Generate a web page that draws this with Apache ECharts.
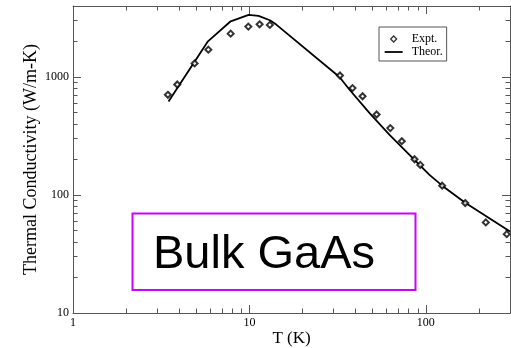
<!DOCTYPE html>
<html>
<head>
<meta charset="utf-8">
<script src="https://cdn.jsdelivr.net/npm/echarts@6/dist/echarts.min.js"></script>
<style>
html,body{margin:0;padding:0;background:#fff;}
#chart{width:511px;height:348px;}
</style>
</head>
<body>
<div id="chart"></div>
<script>
// Experimental data: temperature (K) and thermal conductivity (W/m-K)
var exptT = [3.45, 3.90, 4.89, 5.85, 7.83, 9.86, 11.42, 13.06, 32.6, 38.4, 43.8, 52.6, 62.9, 73.1, 86.3, 93.0, 123.8, 167.2, 218.8, 287.6];
var exptK = [707, 865, 1305, 1706, 2333, 2675, 2799, 2766, 1031, 806, 687, 481, 369, 286, 201, 180, 120, 85.5, 58.6, 46.6];
// Theoretical curve
var theorT = [3.48, 5.82, 7.83, 9.90, 11.27, 13.06, 14.2, 32.4, 36.96, 48.0, 62.3, 80.8, 104.9, 123.8, 167.2, 300];
var theorK = [620, 2007, 2968, 3364, 3298, 3027, 2782, 1000, 780, 494, 323, 219, 148, 120, 86, 49];
// Axis ticks
var xMajor = [1, 10, 100];
var xMinor = [2, 3, 4, 5, 6, 7, 8, 9, 20, 30, 40, 50, 60, 70, 80, 90, 200];
var yMajor = [10, 100, 1000];
var yMinor = [20, 30, 40, 50, 60, 70, 80, 90, 200, 300, 400, 500, 600, 700, 800, 900, 2000, 3000];
var xMin = 1, xMax = 300, yMin = 10, yMax = 4000;

var serif = "'Liberation Serif', 'DejaVu Serif', serif";
var axisColor = '#555';
function lg(v) { return Math.log(v) / Math.LN10; }

function majorFormatter(list) {
  return function (v) {
    var r = Math.round(v);
    for (var i = 0; i < list.length; i++) {
      if (Math.abs(r - list[i]) < 1e-6 * list[i] + 1e-9) return String(list[i]);
    }
    return '';
  };
}

// main log axis: carries the data, the axis line and the labels
function mainAxis(min, max, pos, majors, extra) {
  var a = {
    gridIndex: 0,
    type: 'log', logBase: 10, min: min, max: max, position: pos,
    axisLine: { show: true, onZero: false, lineStyle: { color: axisColor, width: 1 } },
    axisTick: { show: false },
    minorTick: { show: false },
    splitLine: { show: false },
    axisLabel: { show: true, color: '#000', fontFamily: serif, fontSize: 12, margin: 4,
      showMaxLabel: false, formatter: majorFormatter(majors) }
  };
  for (var k in extra) a[k] = extra[k];
  return a;
}
// overlay axis in log10 space (same rect) used only to draw tick marks
function tickAxis(grid, min, max, pos, ticks, len, showLine) {
  return {
    gridIndex: grid,
    type: 'value', min: lg(min), max: lg(max), position: pos,
    axisLine: { show: showLine, onZero: false, lineStyle: { color: axisColor, width: 1 } },
    axisTick: { show: true, inside: true, length: len, customValues: ticks.map(lg), lineStyle: { color: axisColor, width: 1 } },
    splitLine: { show: false },
    axisLabel: { show: false }
  };
}

var chart = echarts.init(document.getElementById('chart'), null, { renderer: 'canvas' });

var gridRect = { left: 73, right: 1, top: 6, bottom: 35, containLabel: false, outerBoundsMode: 'none' };

var option = {
  backgroundColor: '#fff',
  animation: false,
  grid: [gridRect, Object.assign({}, gridRect), Object.assign({}, gridRect)],
  xAxis: [
    mainAxis(xMin, xMax, 'bottom', xMajor, {
      name: 'T (K)', nameLocation: 'middle', nameGap: 17, nameMoveOverlap: false,
      nameTextStyle: { fontFamily: serif, fontSize: 17, color: '#000' }
    }),
    tickAxis(1, xMin, xMax, 'bottom', xMajor, 8, false),
    tickAxis(1, xMin, xMax, 'top', xMajor, 8, true),
    tickAxis(2, xMin, xMax, 'bottom', xMinor, 4.5, false),
    tickAxis(2, xMin, xMax, 'top', xMinor, 4.5, false)
  ],
  yAxis: [
    mainAxis(yMin, yMax, 'left', yMajor, {
      name: 'Thermal Conductivity (W/m-K)', nameLocation: 'middle', nameGap: 33, nameMoveOverlap: false,
      nameTextStyle: { fontFamily: serif, fontSize: 18, color: '#000' }
    }),
    tickAxis(1, yMin, yMax, 'left', yMajor, 8, false),
    tickAxis(1, yMin, yMax, 'right', yMajor, 8, true),
    tickAxis(2, yMin, yMax, 'left', yMinor, 4.5, false),
    tickAxis(2, yMin, yMax, 'right', yMinor, 4.5, false)
  ],
  legend: {
    orient: 'vertical',
    left: 379, top: 27,
    padding: [6, 4, 3, 5],
    itemWidth: 18, itemHeight: 6, itemGap: 1,
    borderColor: axisColor, borderWidth: 1,
    textStyle: { fontFamily: serif, fontSize: 12, color: '#000', padding: [0, 0, 0, 4] },
    data: [
      { name: 'Expt.', icon: 'path://M0,0 M18,6 M9,0 L12,3 L9,6 L6,3 Z',
        itemStyle: { color: '#fff', borderColor: '#000', borderWidth: 1.3 } },
      { name: 'Theor.', icon: 'path://M0,0 L18,0 L18,1.8 L0,1.8 Z',
        itemStyle: { color: '#000', borderWidth: 0 } }
    ]
  },
  series: [
    {
      name: 'Expt.', type: 'scatter',
      xAxisIndex: 0, yAxisIndex: 0,
      symbol: 'emptyDiamond', symbolSize: 6,
      itemStyle: { color: '#000', borderColor: '#000', borderWidth: 1.3 },
      data: exptT.map(function (t, i) { return [t, exptK[i]]; }),
      z: 3
    },
    {
      name: 'Theor.', type: 'line',
      xAxisIndex: 0, yAxisIndex: 0,
      symbol: 'none', smooth: false,
      lineStyle: { color: '#000', width: 1.8 },
      itemStyle: { color: '#000' },
      data: theorT.map(function (t, i) { return [t, theorK[i]]; }),
      z: 2
    }
  ],
  graphic: [
    {
      type: 'rect',
      shape: { x: 132.5, y: 213.5, width: 283, height: 76.5 },
      style: { fill: 'rgba(0,0,0,0)', stroke: '#cc00ff', lineWidth: 2 },
      z: 10
    },
    {
      type: 'text',
      x: 153, y: 255,
      style: { text: 'Bulk GaAs', fill: '#000', font: "47px 'Liberation Sans', Arial, sans-serif", verticalAlign: 'middle', align: 'left' },
      z: 10
    }
  ]
};
chart.setOption(option);
</script>
</body>
</html>
